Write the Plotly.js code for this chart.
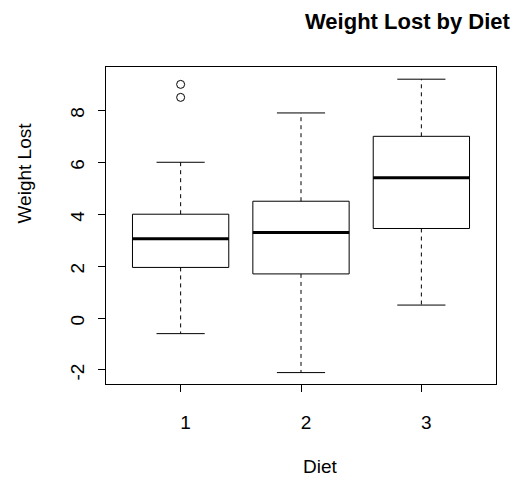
<!DOCTYPE html>
<html>
<head>
<meta charset="utf-8">
<script src="https://cdn.plot.ly/plotly-3.0.1.min.js"></script>
<style>html,body{margin:0;padding:0;background:#fff;}</style>
</head>
<body>
<div id="chart" style="width:522px;height:477px;"></div>
<script>
// ---- data ----
const diets = [1, 2, 3];
const dietLabels = ['1', '2', '3'];
const lowerWhisker = [-0.6, -2.1, 0.5];
const q1 = [1.95, 1.7, 3.45];
const median = [3.05, 3.3, 5.4];
const q3 = [4.0, 4.5, 7.0];
const upperWhisker = [6.0, 7.9, 9.2];
const outlierDiet = [1, 1];
const outlierValue = [8.5, 9.0];
const yTicks = [-2, 0, 2, 4, 6, 8];

// ---- style constants ----
const BOXW = 0.8, CAPW = 0.4;
const FONT = 'Liberation Sans, Arial, sans-serif';

const wx = [], wy = [], cx = [], cy = [], mx = [], my = [];
diets.forEach((d, i) => {
  wx.push(d, d, null, d, d, null);
  wy.push(q3[i], upperWhisker[i], null, q1[i], lowerWhisker[i], null);
  cx.push(d - CAPW / 2, d + CAPW / 2, null, d - CAPW / 2, d + CAPW / 2, null);
  cy.push(upperWhisker[i], upperWhisker[i], null, lowerWhisker[i], lowerWhisker[i], null);
  mx.push(d - BOXW / 2, d + BOXW / 2, null);
  my.push(median[i], median[i], null);
});

const traces = [
  { type: 'scatter', mode: 'lines', x: wx, y: wy, line: { color: 'black', width: 1, dash: '4px,4px' }, hoverinfo: 'skip', showlegend: false },
  { type: 'scatter', mode: 'lines', x: cx, y: cy, line: { color: 'black', width: 1 }, hoverinfo: 'skip', showlegend: false },
  { type: 'box', x: diets, q1: q1, median: median, q3: q3, lowerfence: q1, upperfence: q3,
    width: BOXW, whiskerwidth: 0, boxpoints: false, fillcolor: 'white',
    line: { color: 'black', width: 1 }, hoverinfo: 'skip', showlegend: false },
  { type: 'scatter', mode: 'lines', x: mx, y: my, line: { color: 'black', width: 3 }, hoverinfo: 'skip', showlegend: false },
  { type: 'scatter', mode: 'markers', x: outlierDiet, y: outlierValue,
    marker: { symbol: 'circle-open', size: 8, color: 'black', line: { width: 1 } }, hoverinfo: 'skip', showlegend: false }
];

const layout = {
  width: 522, height: 477,
  margin: { l: 106, r: 26, t: 67, b: 93 },
  paper_bgcolor: 'white', plot_bgcolor: 'white',
  font: { family: FONT, size: 19, color: 'black' },
  showlegend: false,
  title: { text: 'Weight Lost by Diet', font: { family: FONT, size: 22, weight: 'bold', color: 'black' },
           xref: 'container', x: 305 / 522, xanchor: 'left', yref: 'container', y: 1 - 21 / 477, yanchor: 'middle' },
  xaxis: {
    range: [0.38, 3.62], tickmode: 'array', tickvals: diets, ticktext: dietLabels,
    ticks: 'outside', ticklen: 7, tickwidth: 1, tickcolor: 'black',
    showline: true, mirror: true, linecolor: 'black', linewidth: 1,
    showgrid: false, zeroline: false, ticklabelshift: 5, ticklabelstandoff: 14,
    tickfont: { family: FONT, size: 19, color: 'black' }
  },
  yaxis: {
    range: [-2.54, 9.67], tickmode: 'array', tickvals: yTicks, ticktext: yTicks.map(String),
    ticks: 'outside', ticklen: 7, tickwidth: 1, tickcolor: 'black', tickangle: -90,
    showline: true, mirror: true, linecolor: 'black', linewidth: 1,
    showgrid: false, zeroline: false, ticklabelshift: 5, ticklabelstandoff: 6,
    tickfont: { family: FONT, size: 19, color: 'black' }
  },
  annotations: [
    { text: 'Diet', xref: 'paper', yref: 'paper', x: 0.5, y: 0, xanchor: 'left', yanchor: 'middle',
      yshift: -82, showarrow: false, font: { family: FONT, size: 19, color: 'black' } },
    { text: 'Weight Lost', xref: 'paper', yref: 'paper', x: 0, y: 0.5, xanchor: 'center', yanchor: 'bottom',
      xshift: -82.5, textangle: -90, showarrow: false, font: { family: FONT, size: 19, color: 'black' } }
  ]
};

Plotly.newPlot('chart', traces, layout, { displayModeBar: false, staticPlot: true });
</script>
</body>
</html>
